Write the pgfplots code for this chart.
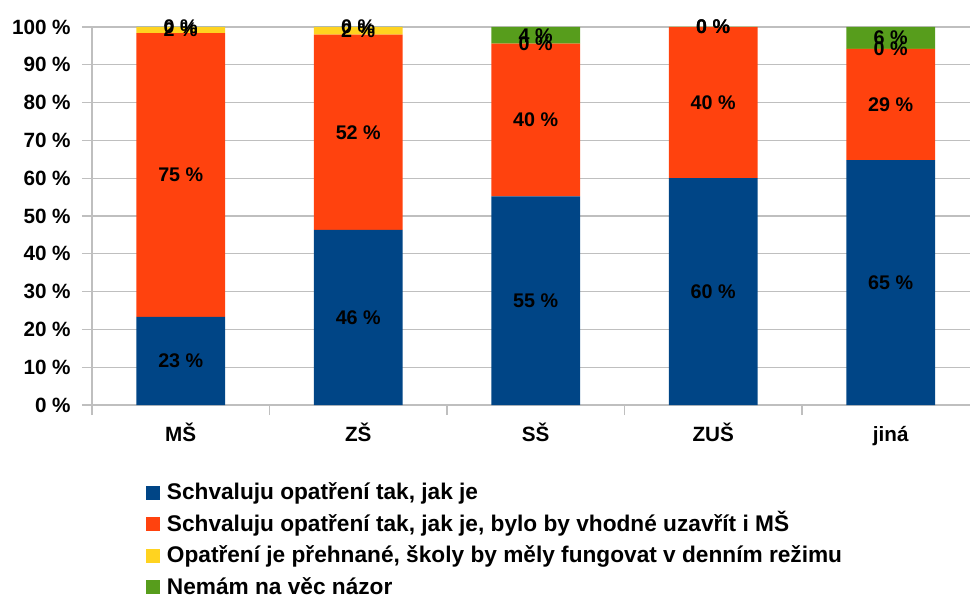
\documentclass[border=0pt]{standalone}
\usepackage{fontspec}
\setmainfont{Liberation Sans}
\usepackage{pgfplots}
\usepackage{pgfplotstable}
\pgfplotsset{compat=1.18}
\definecolor{cBlue}{HTML}{004586}
\definecolor{cRed}{HTML}{FF420E}
\definecolor{cYel}{HTML}{FFD320}
\definecolor{cGrn}{HTML}{579D1C}
\definecolor{cGrid}{HTML}{BFBFBF}
\pgfplotstableread{
x y l
0 23.3 23
1 46.3 46
2 55.2 55
3 60.0 60
4 64.8 65
}\blue
\pgfplotstableread{
x y l
0 75.1 75
1 51.7 52
2 40.4 40
3 40.0 40
4 29.4 29
}\red
\pgfplotstableread{
x y l
0 1.6 2
1 2.0 2
2 0.001 0
3 0.001 0
4 0.001 0
}\yel
\pgfplotstableread{
x y l
0 0.001 0
1 0.001 0
2 4.4 4
3 0.001 0
4 5.8 6
}\grn
\begin{document}
\begin{tikzpicture}
\useasboundingbox (-69pt,-144pt) rectangle (658.5pt,303.75pt);
\begin{axis}[
  at={(0,0)}, anchor=south west,
  scale only axis, width=665.6pt, height=283.5pt,
  clip=false,
  ybar stacked, bar width=0.5,
  legend image code/.code={\fill[#1] (0pt,-5.25pt) rectangle (10.5pt,5.25pt);
     \path (14pt,0pt);},
  xmin=-0.5, xmax=4.5, ymin=0, ymax=100,
  xtick={-0.5,0.5,...,4.5}, x tick label as interval,
  xticklabels={MŠ,ZŠ,SŠ,ZUŠ,jiná},
  ytick={0,10,...,100},
  yticklabels={0 \%,10 \%,20 \%,30 \%,40 \%,50 \%,60 \%,70 \%,80 \%,90 \%,100 \%},
  axis x line*=bottom, axis y line*=left,
  axis line style={cGrid, line width=0.9pt},
  ymajorgrids, grid style={cGrid, line width=0.9pt},
  tick align=outside, major tick length=7.5pt,
  tick style={cGrid, line width=0.9pt},
  ticklabel style={font=\fontsize{15.5}{18}\selectfont\bfseries, text=black},
  yticklabel style={xshift=-5pt},
  xticklabel style={text height=11.5pt, text depth=3.5pt, yshift=-4.5pt},
  point meta=explicit,
  nodes near coords={\pgfmathprintnumber[assume math mode=true]{\pgfplotspointmeta}\ \%},
  every node near coord/.append style={
     font=\fontsize{14.8}{17}\selectfont\bfseries, text=black},
  legend style={at={(0,0)}, anchor=north west, xshift=37pt, yshift=-55.75pt,
     draw=none, fill=none, font=\fontsize{17}{20}\selectfont\bfseries,
     nodes={inner ysep=0pt, text height=13pt, text depth=3pt},
     row sep=7.6pt},
  legend cell align=left,
]
\addplot[fill=cBlue, draw=none] table[x=x, y=y, meta=l] {\blue};
\addplot[fill=cRed, draw=none] table[x=x, y=y, meta=l] {\red};
\addplot[fill=cYel, draw=none] table[x=x, y=y, meta=l] {\yel};
\addplot[fill=cGrn, draw=none] table[x=x, y=y, meta=l] {\grn};
\legend{{Schvaluju opatření tak, jak je}, {Schvaluju opatření tak, jak je, bylo by vhodné uzavřít i MŠ}, {Opatření je přehnané, školy by měly fungovat v denním režimu}, {Nemám na věc názor}}
\end{axis}
\end{tikzpicture}
\end{document}
